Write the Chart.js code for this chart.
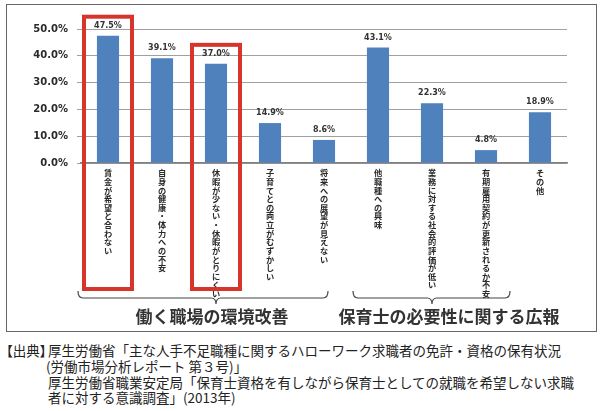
<!DOCTYPE html>
<html>
<head>
<meta charset="utf-8">
<script src="https://cdn.jsdelivr.net/npm/chart.js@4/dist/chart.umd.min.js"></script>
<style>
  body { margin: 0; background: #fff; width: 608px; height: 411px; position: relative; overflow: hidden; }
  #frame { position: absolute; left: 6px; top: 4px; width: 591px; height: 328px; border: 1px solid #666; box-sizing: border-box; }
  #chart { position: absolute; left: 0; top: 0; }
  .src { position: absolute; font: 13.5px "Noto Sans CJK JP", sans-serif; color: #222; line-height: 15.5px; white-space: nowrap; }
  .palt { font-feature-settings: "palt"; }
</style>
</head>
<body>
<div id="frame"><canvas id="chart" width="589" height="326"></canvas></div>
<div class="src palt" style="left:6px; top:343px;">【出典】</div>
<div class="src" style="left:48px; top:343px;">厚生労働省「主な人手不足職種に関するハローワーク求職者の免許・資格の保有状況</div>
<div class="src" style="left:46px; top:359px;">(労働市場分析レポート 第３号)」</div>
<div class="src" style="left:48px; top:375px;">厚生労働省職業安定局「保育士資格を有しながら保育士としての就職を希望しない求職</div>
<div class="src" style="left:48px; top:390px;">者に対する意識調査」(2013年)</div>
<script>
// data
var categories = [
    "賃金が希望と合わない",
    "自身の健康・体力への不安",
    "休暇が少ない・休暇がとりにくい",
    "子育てとの両立がむずかしい",
    "将来への展望が見えない",
    "他職種への興味",
    "業務に対する社会的評価が低い",
    "有期雇用契約が更新されるか不安",
    "その他"
];
var values = [47.5, 39.1, 37.0, 14.9, 8.6, 43.1, 22.3, 4.8, 18.9];
var yTicks = [0, 5, 10, 15, 20, 25, 30, 35, 40, 45, 50];
var highlighted = [0, 2];
var groupLabels = ["働く職場の環境改善", "保育士の必要性に関する広報"];
var groupStart = [0, 5];
var groupEnd = [4, 7];

// drawing tweaks for the brackets and group titles
var bracketPad = [[-30, 4], [-25, 24]];
var labelShift = [-4, 17];

var overlay = {
    id: 'overlay',
    afterDatasetsDraw: function(chart) {
        var ctx = chart.ctx;
        var xs = chart.scales.x, ys = chart.scales.y;
        var meta = chart.getDatasetMeta(0);
        ctx.save();

        // value labels on top of the bars
        ctx.font = 'bold 8px "DejaVu Sans"';
        ctx.fillStyle = '#333';
        ctx.textAlign = 'center';
        ctx.textBaseline = 'middle';
        meta.data.forEach(function(bar, i) {
            ctx.fillText(values[i].toFixed(1) + '%', bar.x, bar.y - 10);
        });

        // red boxes
        ctx.strokeStyle = '#d5352b';
        ctx.lineWidth = 4;
        var boxBottom = chart.chartArea.bottom + 126;
        highlighted.forEach(function(i) {
            var cx = xs.getPixelForValue(i);
            var top = ys.getPixelForValue(values[i]) - 19;
            ctx.strokeRect(cx - 24, top, 48, boxBottom - top);
        });

        // brackets + group titles
        var yb = chart.chartArea.bottom + 135;
        groupLabels.forEach(function(label, g) {
            var p0 = xs.getPixelForValue(groupStart[g]);
            var p1 = xs.getPixelForValue(groupEnd[g]);
            var a = p0 + bracketPad[g][0];
            var b = p1 + bracketPad[g][1];
            var m = (p0 + p1) / 2;
            ctx.strokeStyle = '#444';
            ctx.lineWidth = 1.2;
            ctx.beginPath();
            ctx.moveTo(a, yb - 7);
            ctx.quadraticCurveTo(a, yb, a + 5, yb);
            ctx.lineTo(m - 5, yb);
            ctx.quadraticCurveTo(m, yb, m, yb + 6);
            ctx.quadraticCurveTo(m, yb, m + 5, yb);
            ctx.lineTo(b - 5, yb);
            ctx.quadraticCurveTo(b, yb, b, yb - 7);
            ctx.stroke();

            ctx.font = 'bold 17px "Noto Sans CJK JP"';
            ctx.fillStyle = '#333';
            ctx.fillText(label, m + labelShift[g], yb + 19);
        });
        ctx.restore();
    }
};

var ctx = document.getElementById("chart").getContext("2d");

var myBarChart = new Chart(ctx, {
    type: 'bar',
    data: {
        labels: categories.map(function(c) { return Array.from(c); }),
        datasets: [
            {
                data: values,
                backgroundColor: "#4f81bd",
                barPercentage: 0.41,
                categoryPercentage: 1.0
            }
        ]
    },
    options: {
        responsive: false,
        animation: false,
        layout: { padding: { top: 24, right: 29, bottom: 0, left: 0 } },
        plugins: {
            legend: { display: false },
            tooltip: { enabled: false }
        },
        scales: {
            x: {
                afterFit: function(scale) { scale.height = 168; },
                grid: { display: false, drawTicks: false },
                border: { color: '#808080', width: 1.5 },
                ticks: {
                    autoSkip: false,
                    maxRotation: 0,
                    minRotation: 0,
                    padding: 6,
                    color: '#2a2a2a',
                    font: { family: '"Noto Sans CJK JP", sans-serif', size: 8.2, weight: 'bold', lineHeight: 1.05 }
                }
            },
            y: {
                min: 0,
                max: 50,
                afterFit: function(scale) { scale.width = 74; },
                afterBuildTicks: function(scale) {
                    scale.ticks = yTicks.map(function(v) { return { value: v }; });
                },
                grid: { color: '#a0a0a0', lineWidth: 1, tickLength: 4 },
                border: { display: false },
                ticks: {
                    padding: 9,
                    color: '#2a2a2a',
                    font: { family: '"DejaVu Sans", sans-serif', size: 10, weight: 'bold' },
                    callback: function(v) { return v.toFixed(1) + '%'; }
                }
            }
        }
    },
    plugins: [overlay]
});
</script>
</body>
</html>
